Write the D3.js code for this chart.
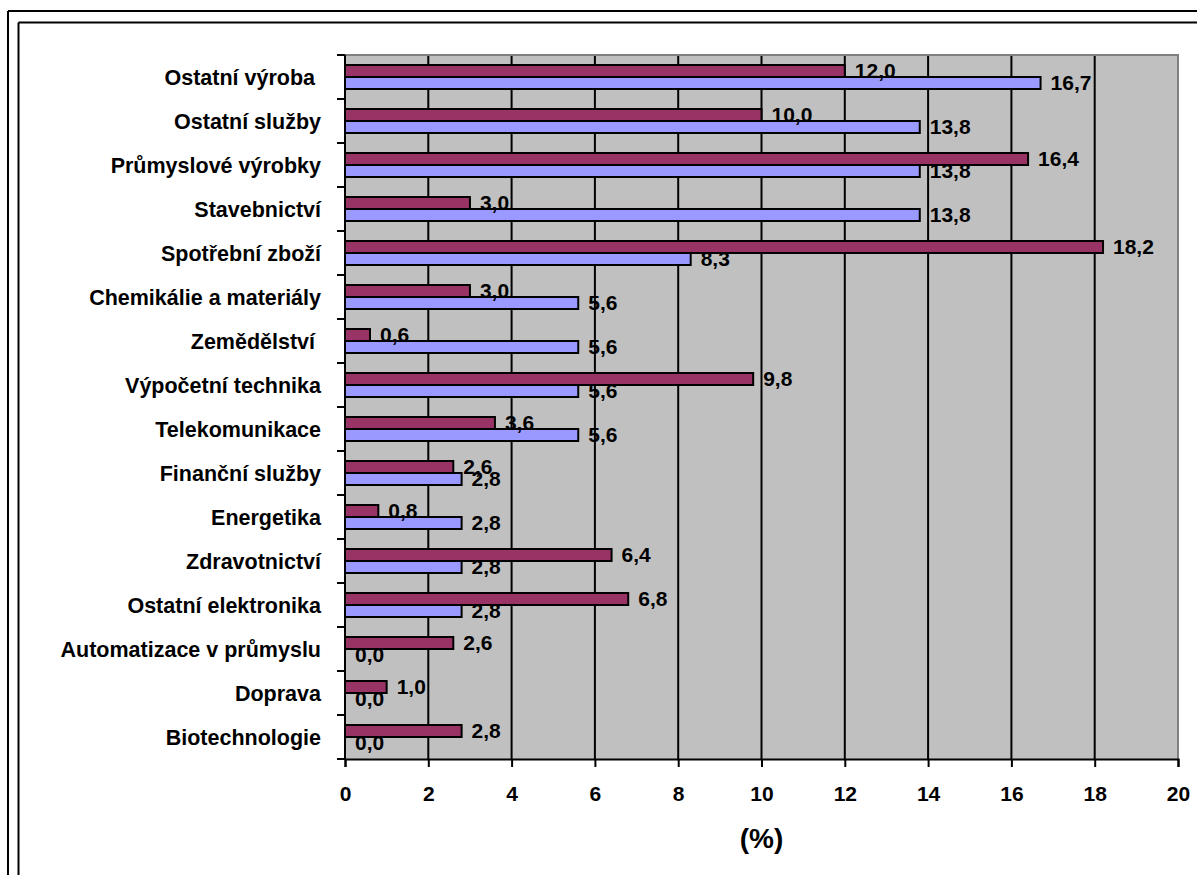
<!DOCTYPE html>
<html>
<head>
<meta charset="utf-8">
<script src="https://cdn.jsdelivr.net/npm/d3@7"></script>
<style>
  html, body { margin: 0; padding: 0; background: #fff; }
  svg { display: block; }
  text { font-family: "Liberation Sans", Arial, sans-serif; font-weight: bold; font-size: 21px; fill: #000; white-space: pre; }
  text.cat { font-size: 21.5px; }
  text.title { font-size: 28px; }
</style>
</head>
<body>
<svg id="chart" width="1197" height="875"></svg>
<script>
// Sector categories, listed top to bottom
const categories = [
  "Ostatní výroba ", "Ostatní služby", "Průmyslové výrobky", "Stavebnictví",
  "Spotřební zboží", "Chemikálie a materiály", "Zemědělství ", "Výpočetní technika",
  "Telekomunikace", "Finanční služby", "Energetika", "Zdravotnictví",
  "Ostatní elektronika", "Automatizace v průmyslu", "Doprava", "Biotechnologie"
];
// Share per sector (%), first (maroon) series
const seriesA = [12.0, 10.0, 16.4, 3.0, 18.2, 3.0, 0.6, 9.8, 3.6, 2.6, 0.8, 6.4, 6.8, 2.6, 1.0, 2.8];
// Share per sector (%), second (blue) series
const seriesB = [16.7, 13.8, 13.8, 13.8, 8.3, 5.6, 5.6, 5.6, 5.6, 2.8, 2.8, 2.8, 2.8, 0.0, 0.0, 0.0];
const xTicks = [0, 2, 4, 6, 8, 10, 12, 14, 16, 18, 20];
const axisTitle = "(%)";

const svg = d3.select("#chart");
const W = 1197, H = 875;

// Frame lines around the chart
svg.append("line").attr("x1", 8).attr("x2", W + 5).attr("y1", 11).attr("y2", 11).attr("stroke", "#000").attr("stroke-width", 2);
svg.append("line").attr("x1", 8).attr("x2", 8).attr("y1", 11).attr("y2", H + 5).attr("stroke", "#000").attr("stroke-width", 2);
svg.append("line").attr("x1", 18.5).attr("x2", W + 5).attr("y1", 22.5).attr("y2", 22.5).attr("stroke", "#000").attr("stroke-width", 2);
svg.append("line").attr("x1", 18.5).attr("x2", 18.5).attr("y1", 22.5).attr("y2", H + 5).attr("stroke", "#000").attr("stroke-width", 2);

const plot = { left: 345, right: 1178, top: 55, bottom: 759 };

const x = d3.scaleLinear().domain([0, 20]).range([plot.left, plot.right]);
const y = d3.scaleBand().domain(categories).range([plot.top, plot.bottom]).paddingInner(0).paddingOuter(0);
const barH = 12;
const fmt = v => d3.format(".1f")(v).replace(".", ",");

// Plot background
svg.append("rect")
  .attr("x", plot.left).attr("y", plot.top)
  .attr("width", plot.right - plot.left).attr("height", plot.bottom - plot.top)
  .attr("fill", "#c0c0c0");

// Vertical gridlines
svg.append("g").selectAll("line").data(xTicks.filter(t => t > 0 && t < 20)).join("line")
  .attr("x1", d => x(d)).attr("x2", d => x(d))
  .attr("y1", plot.top).attr("y2", plot.bottom)
  .attr("stroke", "#000").attr("stroke-width", 2);

// Plot border on top and right
svg.append("path")
  .attr("d", `M${plot.left},${plot.top}H${plot.right}V${plot.bottom}`)
  .attr("fill", "none").attr("stroke", "#808080").attr("stroke-width", 2);

const center = c => y(c) + y.bandwidth() / 2;

// Bars
const bars = svg.append("g");
bars.selectAll("rect.a").data(categories).join("rect")
  .attr("class", "a")
  .attr("x", x(0))
  .attr("y", c => center(c) - barH)
  .attr("width", (c, i) => x(seriesA[i]) - x(0))
  .attr("height", barH)
  .attr("fill", "#993366").attr("stroke", "#000").attr("stroke-width", 2);
bars.selectAll("rect.b").data(categories).join("rect")
  .attr("class", "b")
  .attr("x", x(0))
  .attr("y", c => center(c))
  .attr("width", (c, i) => x(seriesB[i]) - x(0))
  .attr("height", barH)
  .attr("fill", "#9999ff").attr("stroke", "#000").attr("stroke-width", 2);

// Axes
const xAxis = d3.axisBottom(x).tickValues(xTicks).tickSize(8).tickPadding(20).tickFormat(d3.format("d"));
const gx = svg.append("g").attr("transform", `translate(0,${plot.bottom})`).call(xAxis);
gx.select(".domain").attr("stroke", "#000").attr("stroke-width", 2);
gx.selectAll(".tick line").attr("stroke", "#000").attr("stroke-width", 2);
gx.selectAll(".tick text").attr("font-size", 21).attr("font-family", null).attr("dy", "0.71em").attr("y", 27);

// Left axis: line and ticks at category boundaries
const boundaries = categories.map(c => y(c)).concat([plot.bottom]);
svg.append("line").attr("x1", plot.left).attr("x2", plot.left).attr("y1", plot.top).attr("y2", plot.bottom)
  .attr("stroke", "#000").attr("stroke-width", 2);
svg.append("g").selectAll("line").data(boundaries).join("line")
  .attr("x1", plot.left - 8).attr("x2", plot.left)
  .attr("y1", d => d).attr("y2", d => d)
  .attr("stroke", "#000").attr("stroke-width", 2);

// Category labels
svg.append("g").selectAll("text").data(categories).join("text")
  .attr("class", "cat")
  .attr("x", 321)
  .attr("y", c => center(c))
  .attr("dy", "0.35em")
  .attr("text-anchor", "end")
  .text(c => c);

// Value labels
const labels = svg.append("g");
labels.selectAll("text.a").data(categories).join("text")
  .attr("class", "a")
  .attr("x", (c, i) => x(seriesA[i]) + 10)
  .attr("y", c => center(c) - barH / 2)
  .attr("dy", "0.35em")
  .text((c, i) => fmt(seriesA[i]));
labels.selectAll("text.b").data(categories).join("text")
  .attr("class", "b")
  .attr("x", (c, i) => x(seriesB[i]) + 10)
  .attr("y", c => center(c) + barH / 2)
  .attr("dy", "0.35em")
  .text((c, i) => fmt(seriesB[i]));

// Axis title
svg.append("text")
  .attr("class", "title")
  .attr("x", (plot.left + plot.right) / 2)
  .attr("y", 848)
  .attr("text-anchor", "middle")
  .text(axisTitle);
</script>
</body>
</html>
